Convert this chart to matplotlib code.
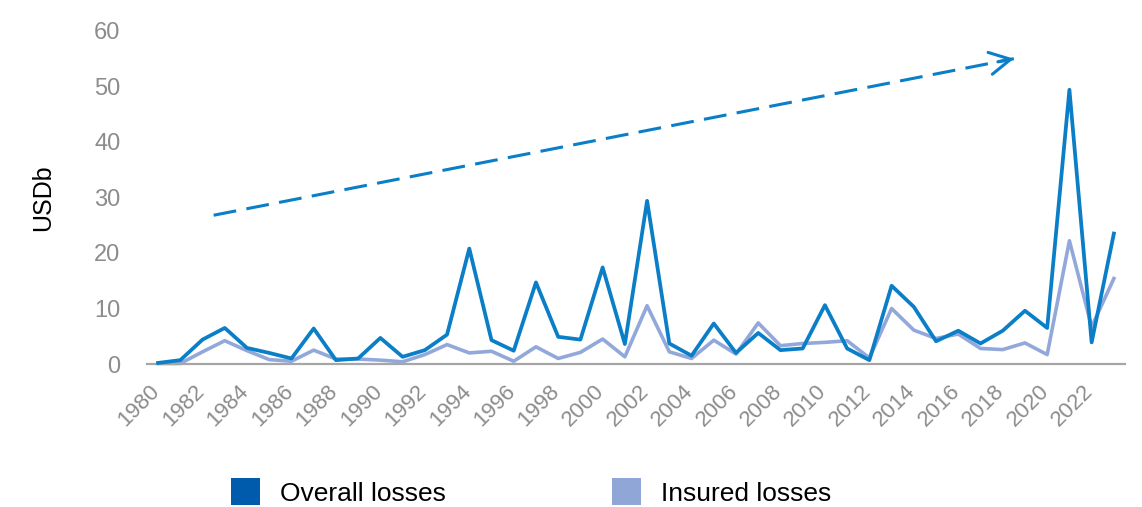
import matplotlib
matplotlib.use('Agg')
import matplotlib.pyplot as plt
from matplotlib.patches import Patch
from matplotlib.transforms import ScaledTranslation

plt.rcParams['font.family'] = ['Liberation Sans', 'DejaVu Sans']

years = list(range(1980, 2024))
overall = [0.2, 0.7, 4.4, 6.5, 2.9, 2.0, 1.0, 6.4, 0.7, 1.0,
           4.7, 1.3, 2.5, 5.3, 20.8, 4.3, 2.4, 14.7, 4.9, 4.4,
           17.4, 3.6, 29.4, 3.7, 1.5, 7.3, 2.0, 5.6, 2.5, 2.8,
           10.6, 2.8, 0.7, 14.1, 10.3, 4.1, 6.0, 3.7, 6.0, 9.6,
           6.5, 49.4, 3.9, 23.5]
insured = [0.1, 0.1, 2.2, 4.2, 2.4, 0.8, 0.5, 2.5, 0.9, 0.9,
           0.7, 0.4, 1.7, 3.5, 2.0, 2.3, 0.5, 3.1, 1.0, 2.1,
           4.5, 1.3, 10.5, 2.2, 1.0, 4.3, 1.8, 7.4, 3.3, 3.7,
           3.9, 4.2, 1.1, 10.0, 6.1, 4.6, 5.4, 2.8, 2.6, 3.8,
           1.7, 22.2, 6.7, 15.4]
xticks = list(range(1980, 2023, 2))
yticks = [0, 10, 20, 30, 40, 50, 60]

# trend arrow end points (year, USDb)
trend_start = (1982.5, 26.8)
trend_end = (2018.5, 55.0)

c_overall = '#0A7EC6'
c_insured = '#93A8DA'
grey = '#8C8C8C'

fig = plt.figure(figsize=(11.42, 5.07), dpi=100)
ax = fig.add_axes([0.1287, 0.282, 0.8564, 0.657])

ax.plot(years, insured, color=c_insured, lw=2.6, clip_on=False, zorder=2)
ax.plot(years, overall, color=c_overall, lw=2.7, clip_on=False, zorder=3)

# dashed trend line plus open arrow head
ax.plot([trend_start[0], trend_end[0]], [trend_start[1], trend_end[1]],
        color=c_overall, lw=2.2, ls=(0, (7.5, 3.4)), clip_on=False)
dx = (trend_end[0] - trend_start[0]) * 0.02
dy = (trend_end[1] - trend_start[1]) * 0.02
ax.annotate('', xy=trend_end, xytext=(trend_end[0] - dx, trend_end[1] - dy),
            arrowprops=dict(arrowstyle='->,head_length=0.75,head_width=0.4',
                            color=c_overall, lw=2.2, mutation_scale=20,
                            shrinkA=0, shrinkB=0))

ax.set_xlim(1979.5, 2023.5)
ax.set_ylim(0, 60)
ax.set_xticks(xticks)
ax.set_xticklabels([str(y) for y in xticks], rotation=45, ha='right')
ax.set_yticks(yticks)
ax.tick_params(axis='both', length=0, labelsize=16, colors=grey)
ax.tick_params(axis='y', pad=19, labelsize=17)
ax.tick_params(axis='x', pad=12)
shift = ScaledTranslation(6 / 100, 0, fig.dpi_scale_trans)
for lab in ax.get_xticklabels():
    lab.set_transform(lab.get_transform() + shift)
ax.set_ylabel('USDb', fontsize=18, color='black', labelpad=28)

for s in ['top', 'right', 'left']:
    ax.spines[s].set_visible(False)
ax.spines['bottom'].set_color('#A6A6A6')
ax.spines['bottom'].set_linewidth(1.6)

handles = [Patch(facecolor='#005BAC', edgecolor='none', label='Overall losses'),
           Patch(facecolor='#8FA6D6', edgecolor='none', label='Insured losses')]
fig.legend(handles=handles, loc='center', bbox_to_anchor=(0.465, 0.03),
           ncol=2, frameon=False, fontsize=19, handlelength=1.1,
           handleheight=1.2, handletextpad=0.76, columnspacing=6.3)

fig.savefig('out.png', dpi=100)
